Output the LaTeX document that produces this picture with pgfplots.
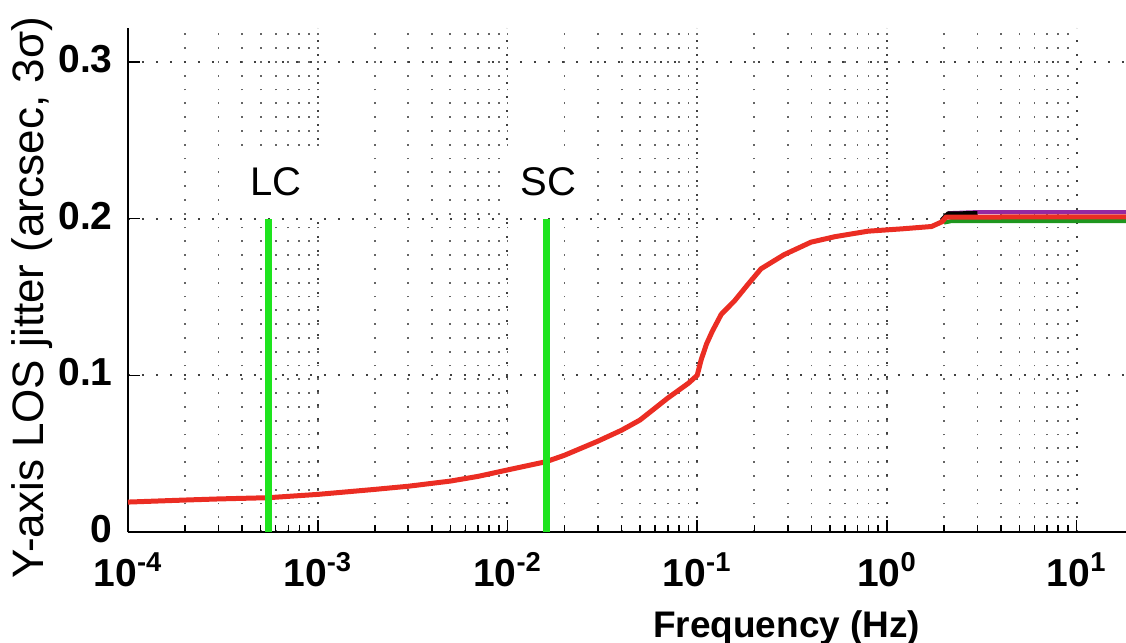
\documentclass[border=0pt]{standalone}
\usepackage{pgfplots}
\pgfplotsset{compat=1.18}
\usepackage{pgfplotstable}
\usepackage{fontspec}
\setmainfont{Liberation Sans}
\definecolor{cred}{RGB}{235,45,35}
\definecolor{cpurple}{RGB}{150,40,160}
\definecolor{cgreenc}{RGB}{30,150,30}
\definecolor{cgreen}{RGB}{30,228,30}

\pgfplotstableread{
x y
1e-4 0.0191
2e-4 0.0204
3e-4 0.0211
5.5e-4 0.0219
1e-3 0.0240
2e-3 0.0272
3e-3 0.0292
5e-3 0.0325
7e-3 0.0355
1e-2 0.0396
0.016 0.0449
0.02 0.0490
0.03 0.0580
0.04 0.0650
0.05 0.0715
0.07 0.0855
0.09 0.0950
0.1 0.1000
0.105 0.1100
0.112 0.1200
0.12 0.1280
0.134 0.1390
0.157 0.1474
0.185 0.1580
0.217 0.1680
0.287 0.1770
0.398 0.1850
0.532 0.1885
0.794 0.1920
1.2 0.1935
1.72 0.1950
1.95 0.1980
2.05 0.2010
18.2 0.2012
}\redcurve

\begin{document}
\begin{tikzpicture}
\begin{axis}[
  at={(0,0)}, anchor=south west,
  scale only axis, width=499pt, height=252pt,
  xmode=log, xmin=1e-4, xmax=18.2,
  ymin=0, ymax=0.3217,
  axis x line*=bottom, axis y line*=left,
  axis line style={-, line width=1pt, black},
  tick align=inside,
  major tick length=6pt, minor tick length=3.5pt,
  tick style={black, line width=0.8pt},
  xtick={1e-4,1e-3,1e-2,1e-1,1,10},
  xticklabels={{\textbf{10}\textsuperscript{\textbf{-4}}},{\textbf{10}\textsuperscript{\textbf{-3}}},{\textbf{10}\textsuperscript{\textbf{-2}}},{\textbf{10}\textsuperscript{\textbf{-1}}},{\textbf{10}\textsuperscript{\textbf{0}}},{\textbf{10}\textsuperscript{\textbf{1}}}},
  ytick={0,0.1,0.2,0.3},
  yticklabels={\textbf{0},\textbf{0.1},\textbf{0.2},\textbf{0.3}},
  ticklabel style={font=\fontsize{19.5}{23}\selectfont, inner sep=0pt},
  xticklabel style={anchor=north, yshift=-10pt},
  yticklabel style={anchor=east, xshift=-7.5pt, yshift=1.5pt},
  xmajorgrids, xminorgrids, ymajorgrids,
  major grid style={black!75, line width=1pt, dash pattern=on 1pt off 6pt},
  minor grid style={black!60, line width=0.9pt, dash pattern=on 0.9pt off 6pt},
  clip=true,
]
\addplot[no marks, cgreenc, line width=2pt] coordinates {(2.0,0.1975) (2.2,0.1985) (18.2,0.1985)};
\addplot[no marks, cpurple, line width=2pt] coordinates {(2.1,0.2035) (3.0,0.2042) (18.2,0.2042)};
\addplot[no marks, black, line width=2pt] coordinates {(1.95,0.1995) (2.1,0.2033) (3.0,0.2036)};
\addplot[no marks, cred, line width=2.5pt] table[x=x,y=y] {\redcurve};
\addplot[no marks, cgreen, line width=3.5pt] coordinates {(5.5e-4,0) (5.5e-4,0.2)};
\addplot[no marks, cgreen, line width=3.5pt] coordinates {(0.016,0) (0.016,0.2)};
\node[fill=white, minimum width=46pt, minimum height=33.5pt, inner sep=0pt, font=\fontsize{20}{24}\selectfont] at (axis cs:6.03e-4,0.2237) {LC};
\node[fill=white, minimum width=46pt, minimum height=33.5pt, inner sep=0pt, font=\fontsize{20}{24}\selectfont] at (axis cs:0.0165,0.2237) {SC};
\end{axis}
\node[anchor=base, font=\bfseries\fontsize{18.5}{22}\selectfont] at (0.66*499pt,-52.5pt) {Frequency (Hz)};
\node[rotate=90, anchor=center, font=\fontsize{22}{26}\selectfont] at (-48pt,0.465*252pt) {Y-axis LOS jitter (arcsec, 3σ)};
\pgfresetboundingbox
\useasboundingbox (-64pt,-55.5pt) rectangle (499pt,266pt);
\end{tikzpicture}
\end{document}
